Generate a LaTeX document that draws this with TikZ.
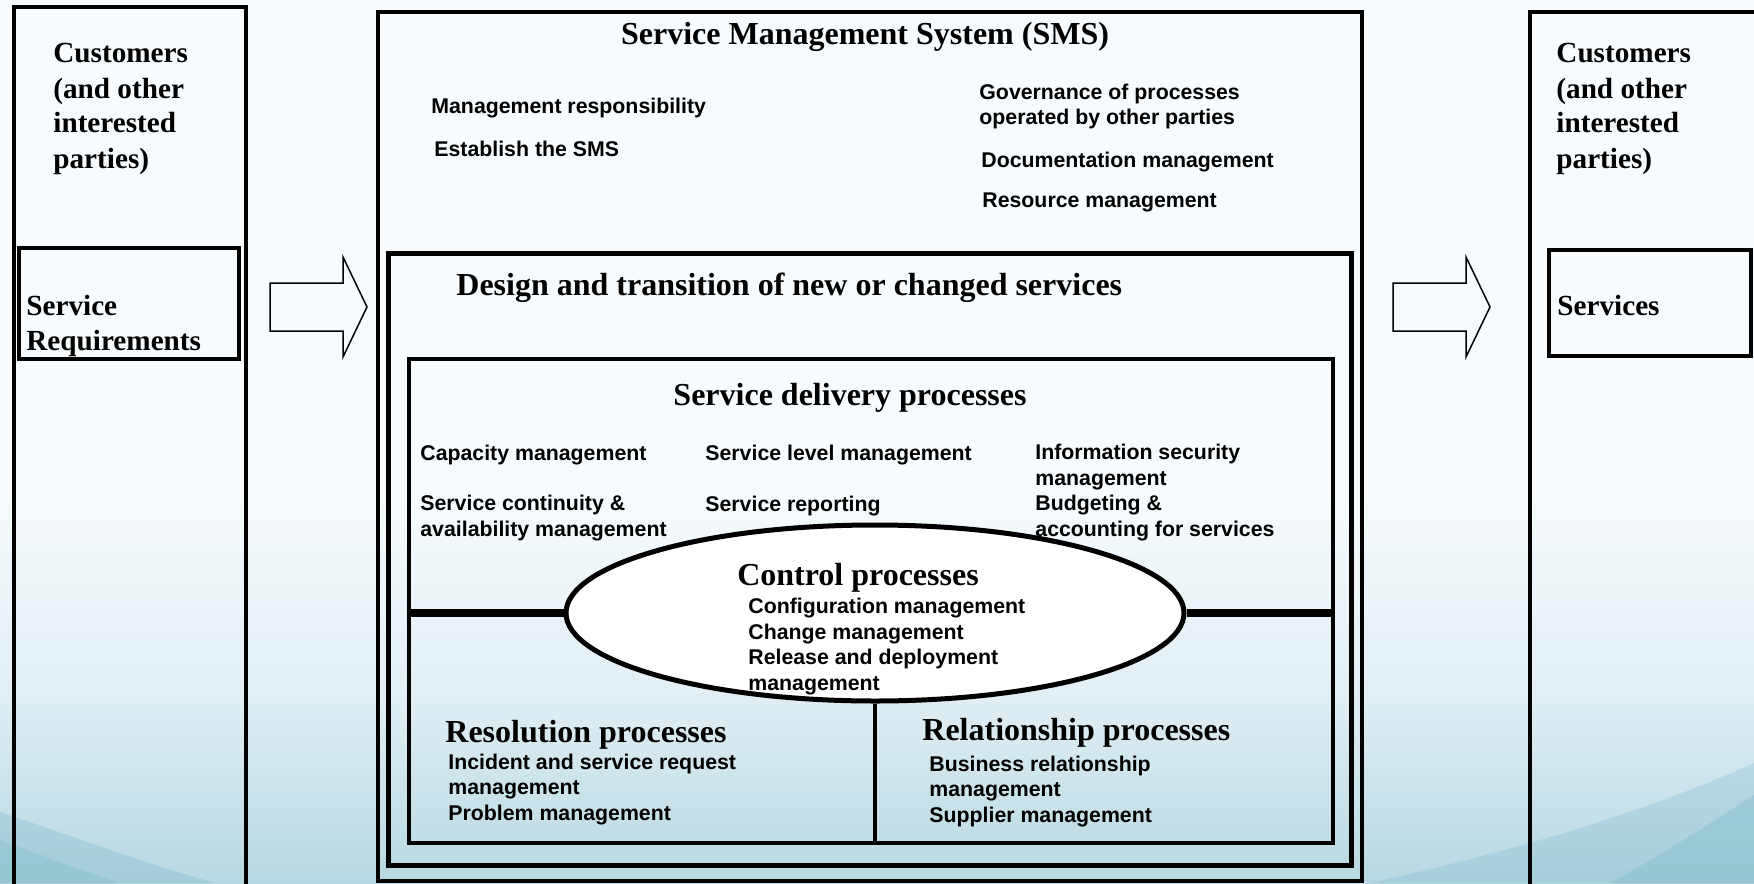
\documentclass[tikz,border=0pt]{standalone}
\usepackage{fontspec}
\setmainfont{Liberation Serif}
\setsansfont{Liberation Sans}
\usetikzlibrary{fit,shapes.geometric}
\definecolor{bgtop}{RGB}{247,251,253}
\definecolor{bgmid}{RGB}{226,239,244}
\definecolor{bgbot}{RGB}{183,216,226}
\definecolor{swoosh}{RGB}{128,186,203}
\pgfdeclareverticalshading{bgfade}{100bp}{color(0bp)=(bgbot); color(25bp)=(bgbot); color(36bp)=(bgmid); color(47bp)=(bgtop); color(100bp)=(bgtop)}
\tikzset{
  box/.style={draw,line width=2pt,inner sep=0pt},
  head/.style={font=\bfseries\fontsize{16}{19}\selectfont,inner sep=0pt},
  cust/.style={font=\bfseries\fontsize{14.6}{17.5}\selectfont,align=left,inner sep=0pt},
  item/.style={font=\sffamily\bfseries\fontsize{10.65}{12.75}\selectfont,align=left,inner sep=0pt},
  blockarrow/.style={draw,line width=0.75pt}
}
\begin{document}
\begin{tikzpicture}[x=0.5pt,y=-0.5pt]
        \useasboundingbox (0,0) rectangle (1754,883);
        % background
        \shade[shading=bgfade] (0,0) rectangle (1754,883);
        \fill[swoosh,opacity=0.35] (0,812) .. controls (70,835) and (140,862) .. (215,883) -- (0,883) -- cycle;
        \fill[swoosh,opacity=0.35] (0,840) .. controls (40,855) and (80,870) .. (120,883) -- (0,883) -- cycle;
        \fill[swoosh,opacity=0.3] (1370,883) .. controls (1520,850) and (1650,810) .. (1754,763) -- (1754,883) -- cycle;
        \fill[swoosh,opacity=0.4] (1610,883) .. controls (1670,850) and (1715,820) .. (1754,795) -- (1754,883) -- cycle;
        % boxes
        \node[box,fit={(14,7) (246,900)}] (custL) {};
        \node[box,fit={(19,248) (239,359)}] (req) {};
        \node[box,fit={(378,12) (1362,881)}] (sms) {};
        \node[box,line width=2.5pt,fit={(388,253) (1351,865)}] (design) {};
        \node[box,fit={(409,359) (1333,843)}] (deliv) {};
        \node[box,fit={(1530,12) (1800,900)}] (custR) {};
        \node[box,fit={(1549,250) (1751,356)}] (srv) {};
        % block arrows
        \coordinate (in) at (270,307);
        \coordinate (out) at (1393,307);
        \draw[blockarrow] (in) ++(0,-24) -- ++(73,0) -- ++(0,-26) -- ++(24,50) -- ++(-24,50) -- ++(0,-26) -- ++(-73,0) -- cycle;
        \draw[blockarrow] (out) ++(0,-24) -- ++(73,0) -- ++(0,-26) -- ++(24,50) -- ++(-24,50) -- ++(0,-26) -- ++(-73,0) -- cycle;
        % control processes
        \node[ellipse,draw,fill=white,line width=2.5pt,inner sep=0pt,minimum width=309pt,minimum height=88pt] (ctrl) at (875,613) {};
        \draw[line width=4pt] (deliv.west |- ctrl) -- (ctrl.west);
        \draw[line width=4pt] (ctrl.east) -- (deliv.east |- ctrl);
        \draw[line width=2pt] (ctrl.south) -- (ctrl.south |- deliv.south);
        % texts (base = last line)
        \node[cust,anchor=base west] (custLtxt) at (53,168) {Customers\\(and other\\interested\\parties)};
        \node[cust,anchor=base west] (reqtxt) at (26,350) {Service\\Requirements};
        \node[cust,anchor=base west] (custRtxt) at (1556,168) {Customers\\(and other\\interested\\parties)};
        \node[cust,anchor=base west] (srvtxt) at (1557,315) {Services};
        \node[head,anchor=base] (smstitle) at (865,45) {Service Management System (SMS)};
        \node[item,anchor=base west] (resp) at (431,113) {Management responsibility};
        \node[item,anchor=base west] (estab) at (434,156) {Establish the SMS};
        \node[item,anchor=base west] (gov) at (979,125) {Governance of processes\\operated by other parties};
        \node[item,anchor=base west] (docu) at (981,167) {Documentation management};
        \node[item,anchor=base west] (resmgmt) at (982,207) {Resource management};
        \node[head,anchor=base west] (designtitle) at (456,295) {Design and transition of new or changed services};
        \node[head,anchor=base] (delivtitle) at (850,405) {Service delivery processes};
        \node[item,anchor=base west] (cap) at (420,460) {Capacity management};
        \node[item,anchor=base west] (slm) at (705,460) {Service level management};
        \node[item,anchor=base west] (isec) at (1035,485) {Information security\\management};
        \node[item,anchor=base west] (cont) at (420,536) {Service continuity \&\\availability management};
        \node[item,anchor=base west] (rep) at (705,511) {Service reporting};
        \node[item,anchor=base west] (budget) at (1035,536) {Budgeting \&\\accounting for services};
        \node[head,anchor=base] (ctrltitle) at (858,585) {Control processes};
        \node[item,anchor=base west] (ctrllist) at (748,690) {Configuration management\\Change management\\Release and deployment\\management};
        \node[head,anchor=base west] (resol) at (445,742) {Resolution processes};
        \node[item,anchor=base west] (resollist) at (448,820) {Incident and service request\\management\\Problem management};
        \node[head,anchor=base west] (rel) at (922,740) {Relationship processes};
        \node[item,anchor=base west] (rellist) at (929,822) {Business relationship\\management\\Supplier management};
    \end{tikzpicture}
\end{document}
